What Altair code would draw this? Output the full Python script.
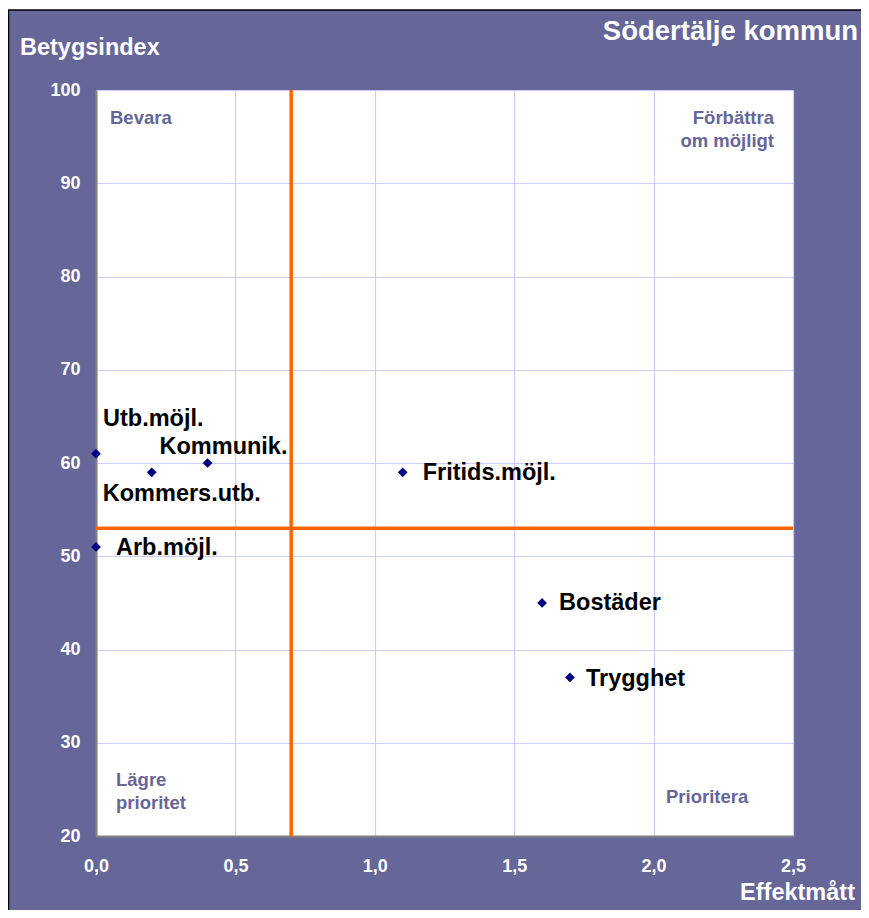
import altair as alt
import pandas as pd

# ---- data ----
names = ["Utb.möjl.", "Kommers.utb.", "Kommunik.", "Arb.möjl.", "Fritids.möjl.", "Bostäder", "Trygghet"]
effekt = [0.0, 0.2, 0.4, 0.0, 1.1, 1.6, 1.7]
betyg = [61, 59, 60, 51, 59, 45, 37]
x_ticks = [0.0, 0.5, 1.0, 1.5, 2.0, 2.5]
y_ticks = [20, 30, 40, 50, 60, 70, 80, 90, 100]
x_ref = 0.7
y_ref = 53
title_text = "Södertälje kommun"
x_title = "Effektmått"
y_title = "Betygsindex"

# ---- style ----
FONT = "Liberation Sans"
BG = "#666699"
label_offsets = {
    "Utb.möjl.": (7, -35),
    "Kommers.utb.": (-49, 22),
    "Kommunik.": (-48, -16),
    "Arb.möjl.": (20, 1),
    "Fritids.möjl.": (20, 1),
    "Bostäder": (17, 0),
    "Trygghet": (16, 2),
}
W, H = 697, 746

df = pd.DataFrame({"name": names, "effekt": effekt, "betyg": betyg})

xs = alt.Scale(domain=[0, 2.5], nice=False, zero=False)
ys = alt.Scale(domain=[20, 100], nice=False, zero=False)

base = alt.Chart(df)

points = base.mark_point(shape="diamond", filled=True, size=95, color="#000080", opacity=1).encode(
    x=alt.X("effekt:Q", scale=xs, title=None,
            axis=alt.Axis(values=x_ticks, grid=True, gridColor="#CCCCFF", gridWidth=1.2,
                          ticks=False, domainColor="#808080", domainWidth=2,
                          labelColor="white", labelFont=FONT, labelFontSize=18, labelFontWeight="bold",
                          labelPadding=21, labelFlush=False,
                          labelExpr="replace(format(datum.value, '.1f'), '.', ',')")),
    y=alt.Y("betyg:Q", scale=ys, title=None,
            axis=alt.Axis(values=y_ticks, grid=True, gridColor="#CCCCFF", gridWidth=1.2,
                          ticks=False, domainColor="#808080", domainWidth=2,
                          labelColor="white", labelFont=FONT, labelFontSize=18, labelFontWeight="bold",
                          labelPadding=16, labelFlush=False)),
)

vline = alt.Chart(pd.DataFrame({"v": [x_ref]})).mark_rule(color="#FF6600", strokeWidth=3.5).encode(
    x=alt.X("v:Q", scale=xs))
hline = alt.Chart(pd.DataFrame({"v": [y_ref]})).mark_rule(color="#FF6600", strokeWidth=3.5).encode(
    y=alt.Y("v:Q", scale=ys))

labels = []
for n in names:
    dx, dy = label_offsets[n]
    labels.append(
        base.transform_filter(alt.datum.name == n).mark_text(
            align="left", baseline="middle", dx=dx, dy=dy, font=FONT, fontSize=23.5,
            fontWeight="bold", color="black").encode(
            x=alt.X("effekt:Q", scale=xs), y=alt.Y("betyg:Q", scale=ys), text="name:N")
    )

def ptext(txt, x, y, align="left", size=18.5, color=BG, lh=23):
    return alt.Chart(pd.DataFrame({"a": [0]})).mark_text(
        align=align, baseline="middle", font=FONT, fontSize=size, fontWeight="bold",
        color=color, lineHeight=lh).encode(
        x=alt.value(x), y=alt.value(y), text=alt.value(txt))

quads = [
    ptext("Bevara", 14, 28),
    ptext(["Förbättra", "om möjligt"], 678, 28, align="right"),
    ptext(["Lägre", "prioritet"], 20, 690),
    ptext("Prioritera", 570, 707),
]

titles = [
    ptext(title_text, 762, -58, align="right", size=27.5, color="white"),
    ptext(y_title, -76, -42, size=23.5, color="white"),
    ptext(x_title, 759, 803, align="right", size=23.5, color="white"),
]

# decorative frame: white strip and black edge lines at the top/left of the chart box
deco_df = pd.DataFrame({"a": [0]})
top_white = alt.Chart(deco_df).mark_rect(color="white").encode(
    x=alt.value(-88), x2=alt.value(773), y=alt.value(-82), y2=alt.value(-80))
top_black = alt.Chart(deco_df).mark_rule(color="black", strokeWidth=1.5).encode(
    x=alt.value(-88), x2=alt.value(773), y=alt.value(-80), y2=alt.value(-80))
left_black = alt.Chart(deco_df).mark_rule(color="black", strokeWidth=1.5).encode(
    x=alt.value(-87.5), x2=alt.value(-87.5), y=alt.value(-80), y2=alt.value(828))

chart = alt.layer(
    top_white, top_black, left_black,
    vline, hline, points, *labels, *quads, *titles
).properties(
    width=W, height=H,
    background=BG,
    autosize=alt.AutoSizeParams(type="none"),
    padding={"left": 88, "top": 82, "right": 68, "bottom": 74},
).configure_view(
    fill="white", stroke=None
)

chart.save("out.html", embed_options={"renderer": "svg", "actions": False})
